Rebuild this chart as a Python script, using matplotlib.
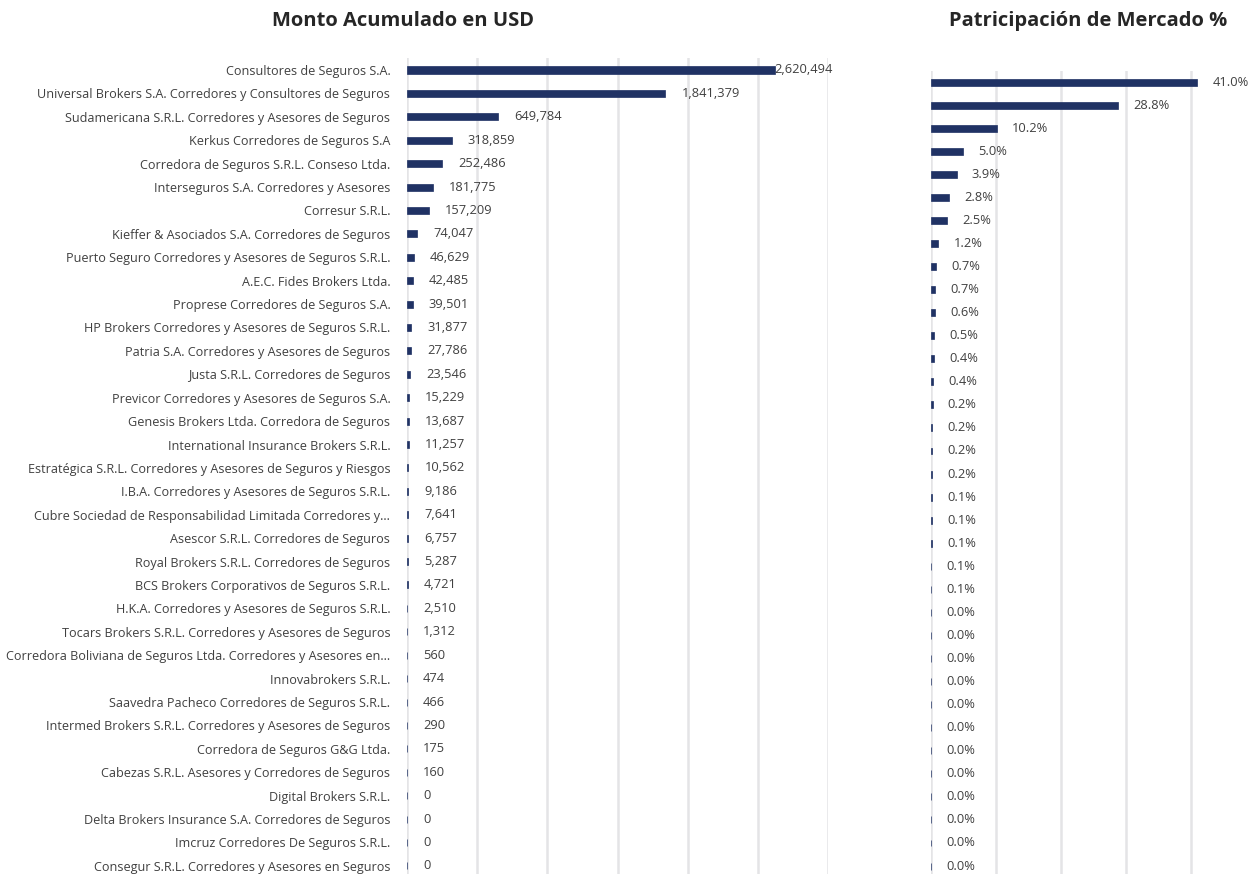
import numpy as np
import matplotlib.pyplot as plt

plt.rcParams['font.family'] = ['Open Sans', 'DejaVu Sans']

brokers = [
    "Consultores de Seguros S.A.",
    "Universal Brokers S.A. Corredores y Consultores de Seguros",
    "Sudamericana S.R.L. Corredores y Asesores de Seguros",
    "Kerkus Corredores de Seguros S.A",
    "Corredora de Seguros S.R.L. Conseso Ltda.",
    "Interseguros S.A. Corredores y Asesores",
    "Corresur S.R.L.",
    "Kieffer & Asociados S.A. Corredores de Seguros",
    "Puerto Seguro Corredores y Asesores de Seguros S.R.L.",
    "A.E.C. Fides Brokers Ltda.",
    "Proprese Corredores de Seguros S.A.",
    "HP Brokers Corredores y Asesores de Seguros S.R.L.",
    "Patria S.A. Corredores y Asesores de Seguros",
    "Justa S.R.L. Corredores de Seguros",
    "Previcor Corredores y Asesores de Seguros S.A.",
    "Genesis Brokers Ltda. Corredora de Seguros",
    "International Insurance Brokers S.R.L.",
    "Estratégica S.R.L. Corredores y Asesores de Seguros y Riesgos",
    "I.B.A. Corredores y Asesores de Seguros S.R.L.",
    "Cubre Sociedad de Responsabilidad Limitada Corredores y…",
    "Asescor S.R.L. Corredores de Seguros",
    "Royal Brokers S.R.L. Corredores de Seguros",
    "BCS Brokers Corporativos de Seguros S.R.L.",
    "H.K.A. Corredores y Asesores de Seguros S.R.L.",
    "Tocars Brokers S.R.L. Corredores y Asesores de Seguros",
    "Corredora Boliviana de Seguros Ltda. Corredores y Asesores en…",
    "Innovabrokers S.R.L.",
    "Saavedra Pacheco Corredores de Seguros S.R.L.",
    "Intermed Brokers S.R.L. Corredores y Asesores de Seguros",
    "Corredora de Seguros G&G Ltda.",
    "Cabezas S.R.L. Asesores y Corredores de Seguros",
    "Digital Brokers S.R.L.",
    "Delta Brokers Insurance S.A. Corredores de Seguros",
    "Imcruz Corredores De Seguros S.R.L.",
    "Consegur S.R.L. Corredores y Asesores en Seguros",
]
monto = [2620494, 1841379, 649784, 318859, 252486, 181775, 157209, 74047,
         46629, 42485, 39501, 31877, 27786, 23546, 15229, 13687, 11257,
         10562, 9186, 7641, 6757, 5287, 4721, 2510, 1312, 560, 474, 466,
         290, 175, 160, 0, 0, 0, 0]

monto = np.array(monto, dtype=float)
share = monto / monto.sum()

navy = '#203264'
txt = '#404040'
grid = '#e4e4e6'

fig = plt.figure(figsize=(12.55, 8.74), dpi=100)
y = np.arange(len(brokers))

# left panel: amounts
ax1 = fig.add_axes([0.3243, -0.0041, 0.3355, 0.9374])
ax1.barh(y, monto, height=0.3, color=navy, edgecolor=navy, linewidth=0.5)
ax1.set_xlim(0, 3000000)
ax1.set_ylim(len(brokers) - 0.5, -0.5)
ax1.set_xticks(np.arange(0, 3000001, 500000))
ax1.set_xticklabels([])
ax1.set_yticks(y)
ax1.set_yticklabels(brokers, fontsize=9.1, color=txt)
ax1.tick_params(axis='y', length=0, pad=12)
ax1.tick_params(axis='x', length=0)
ax1.grid(axis='x', color=grid, linewidth=1.8)
ax1.set_axisbelow(True)
for s in ax1.spines.values():
    s.set_visible(False)
for i, v in enumerate(monto):
    off = 0 if v == monto.max() else 11.5
    ax1.annotate(f"{v:,.0f}", (v, i), xytext=(off, 0), textcoords='offset points',
                 va='center', ha='left', fontsize=9.25, color=txt)

# right panel: market share
ax2 = fig.add_axes([0.7418, -0.0041, 0.259, 0.9234])
ax2.barh(y, share, height=0.3, color=navy, edgecolor=navy, linewidth=0.5)
ax2.set_xlim(0, 0.5)
ax2.set_ylim(len(brokers) - 0.5, -0.5)
ax2.set_xticks(np.arange(0, 0.51, 0.1))
ax2.set_xticklabels([])
ax2.set_yticks([])
ax2.tick_params(axis='x', length=0)
ax2.grid(axis='x', color=grid, linewidth=1.8)
ax2.set_axisbelow(True)
for s in ax2.spines.values():
    s.set_visible(False)
for i, v in enumerate(share):
    ax2.annotate(f"{v * 100:.1f}%", (v, i), xytext=(11, 0), textcoords='offset points',
                 va='center', ha='left', fontsize=9.25, color=txt)

fig.text(403 / 1255, 1 - 21 / 874, "Monto Acumulado en USD", ha='center', va='center',
         fontsize=14.5, fontweight='bold', color='#262626')
fig.text(1088 / 1255, 1 - 21 / 874, "Patricipación de Mercado %", ha='center', va='center',
         fontsize=14.5, fontweight='bold', color='#262626')

fig.savefig('out.png', dpi=100)
